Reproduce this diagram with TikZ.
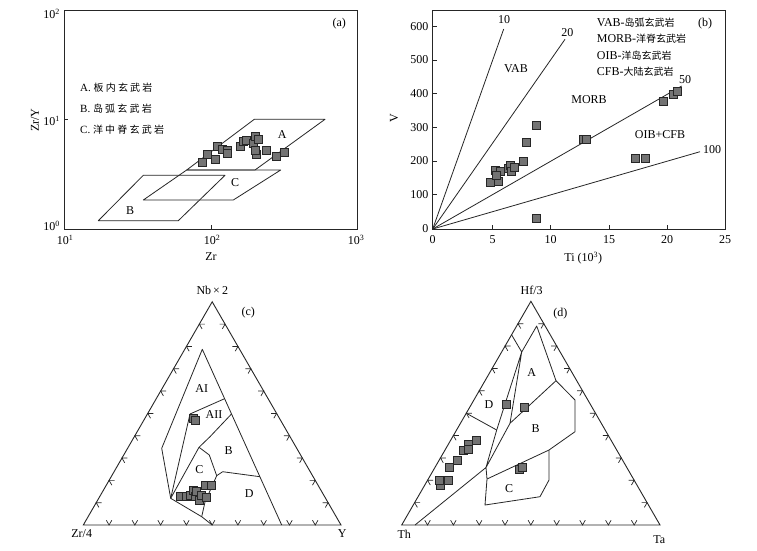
\documentclass[tikz,border=0pt]{standalone}
\usepackage{fontspec}
\setmainfont{Liberation Serif}
\newfontfamily\cjk{Noto Sans CJK SC}
\usetikzlibrary{calc}
\newcommand\ck{\kern2.2pt}
\newcommand\terntk[3]{%
 \foreach \i in {1,...,9}{%
  \draw[tk] ($(#1)!{\i/10}!(#2)$) ++(5.5,0) -- ++(-5.5,0) -- ++(2.75,4.76);
  \draw[tk] ($(#1)!{\i/10}!(#3)$) ++(-2.75,-4.76) -- ++(2.75,4.76) -- ++(2.75,-4.76);
  \draw[tk] ($(#3)!{\i/10}!(#2)$) ++(-5.5,0) -- ++(5.5,0) -- ++(-2.75,4.76);
 }}
\tikzset{
 lbl/.style={font=\fontsize{12}{14}\selectfont, inner sep=0pt},
 leg/.style={font=\fontsize{11}{13}\selectfont, inner sep=0pt, anchor=west},
 frm/.style={draw=black!85, line width=0.9pt},
 fld/.style={draw=black!85, line width=0.8pt, line join=round},
 sq/.style={draw=black!85, fill=black!55, line width=0.7pt, minimum size=8pt, inner sep=0pt},
 tk/.style={draw=black!85, line width=0.7pt},
}
\begin{document}
\begin{tikzpicture}[x=1pt,y=-1pt]
\useasboundingbox (0,0) rectangle (757,550);
\fill[white] (0,0) rectangle (757,550);

% ================= panel (a)
\coordinate (aTL) at (64.3,10); \coordinate (aBR) at (357.3,229);
\draw[frm] (aTL) rectangle (aBR);
\draw[tk] (211,229) -- (211,225);
\draw[tk] (64.3,119.7) -- (68.3,119.7);
\node[lbl,anchor=east] (ay2) at (60,14) {10\textsuperscript{2}};
\node[lbl,anchor=east] (ay1) at (60,121) {10\textsuperscript{1}};
\node[lbl,anchor=east] (ay0) at (60,226) {10\textsuperscript{0}};
\node[lbl] (ax1) at (65,240) {10\textsuperscript{1}};
\node[lbl] (ax2) at (212,240) {10\textsuperscript{2}};
\node[lbl] (ax3) at (356,240) {10\textsuperscript{3}};
\node[lbl] (axl) at (211,257) {Zr};
\node[lbl,rotate=90] (ayl) at (35,120) {Zr/Y};
\node[lbl] (alab) at (339.3,24) {(a)};
\node[leg] (lgA) at (80,87.3) {A.\ {\cjk\fontsize{10}{12}\selectfont 板\ck 内\ck 玄\ck 武\ck 岩}};
\node[leg] (lgB) at (80,108.7) {B.\ {\cjk\fontsize{10}{12}\selectfont 岛\ck 弧\ck 玄\ck 武\ck 岩}};
\node[leg] (lgC) at (80,129.3) {C.\ {\cjk\fontsize{10}{12}\selectfont 洋\ck 中\ck 脊\ck 玄\ck 武\ck 岩}};
\coordinate (pA1) at (186.7,170); \coordinate (pA2) at (255,170);
\coordinate (pA3) at (325,119.3); \coordinate (pA4) at (254.3,119.3);
\coordinate (pC1) at (143.3,200); \coordinate (pC2) at (233.3,200);
\coordinate (pC3) at (280.7,170);
\coordinate (pB1) at (98.3,220.7); \coordinate (pB2) at (178.3,220.7);
\coordinate (pB3) at (225,175.3); \coordinate (pB4) at (143.3,175.3);
\draw[fld] (pA1) -- (pA2) -- (pA3) -- (pA4) -- cycle;
\draw[fld] (pC1) -- (pC2) -- (pC3) -- (pA1) -- cycle;
\draw[fld] (pB1) -- (pB2) -- (pB3) -- (pB4) -- cycle;
\node[lbl] (fa) at (282.3,134.7) {A};
\node[lbl] (fc) at (235,183) {C};
\node[lbl] (fb) at (130,210.7) {B};
\foreach \x/\y [count=\k] in {202.3/162,207.3/154,215/159.3,217.3/146.7,222.3/149,227.7/150.7,227.7/153.3,240/146.7,243.3/141.7,246.7/140.7,253.3/143.3,255.5/136,258.3/139,256.7/154.5,255.7/150,266.7/150,276/156.7,284.3/152.3}
  {\node[sq] (da\k) at (\x,\y) {};}

% ================= panel (b)
\coordinate (bTL) at (432.7,10); \coordinate (bBR) at (725,229);
\coordinate (bO) at (432.7,229);
\draw[frm] (bTL) rectangle (bBR);
\foreach \v/\t in {492.7/5,550.7/10,609/15,667/20}{\draw[tk] (\v,229) -- (\v,225);}
\foreach \v in {194.7,161,127.3,93.7,60,26.7}{\draw[tk] (432.7,\v) -- (436.7,\v);}
\foreach \v/\t [count=\k] in {229/0,194.7/100,161/200,127.3/300,93.7/400,60/500,26.7/600}
  {\node[lbl,anchor=east] (by\k) at (428.5,\v) {\t};}
\foreach \v/\t [count=\k] in {432.7/0,492.7/5,550.7/10,609/15,667/20,725/25}
  {\node[lbl] (bx\k) at (\v,239.5) {\t};}
\node[lbl,rotate=90] (byl) at (394,118.3) {V};
\node[lbl] (bxl) at (583.3,258.3) {Ti (10\textsuperscript{3})};
\node[lbl] (blab) at (705,24) {(b)};
\coordinate (b10) at (503.7,29); \coordinate (b20) at (565,39.3);
\coordinate (b50) at (681.7,86); \coordinate (b100) at (700,151.7);
\draw[fld] (bO) -- (b10); \draw[fld] (bO) -- (b20);
\draw[fld] (bO) -- (b50); \draw[fld] (bO) -- (b100);
\node[lbl] (t10) at (504,20) {10};
\node[lbl] (t20) at (567.3,32.3) {20};
\node[lbl] (t50) at (685,79.3) {50};
\node[lbl] (t100) at (712,150) {100};
\node[lbl] (rVAB) at (516,68.7) {VAB};
\node[lbl] (rMORB) at (589,99.3) {MORB};
\node[lbl] (rOIB) at (660,134.3) {OIB+CFB};
\node[lbl,anchor=west] (lg1) at (596.7,22.3) {VAB-{\cjk\fontsize{10}{12}\selectfont 岛弧玄武岩}};
\node[lbl,anchor=west] (lg2) at (596.7,39) {MORB-{\cjk\fontsize{10}{12}\selectfont 洋脊玄武岩}};
\node[lbl,anchor=west] (lg3) at (596.7,55.3) {OIB-{\cjk\fontsize{10}{12}\selectfont 洋岛玄武岩}};
\node[lbl,anchor=west] (lg4) at (596.7,71.7) {CFB-{\cjk\fontsize{10}{12}\selectfont 大陆玄武岩}};
\foreach \x/\y [count=\k] in {490/182.7,495.7/170.5,498.3/181,500/171,496/175.5,508.3/168.3,510.7/165.5,511.7/171,514/167.7,523.3/161.7,526.3/142,536.3/125,583/139.3,586.7/139.3,635/158.3,645/158.3,536.3/218,663/101,673/94.3,677.7/91}
  {\node[sq] (db\k) at (\x,\y) {};}

% ================= panel (c)
\coordinate (cL) at (83.3,525); \coordinate (cA) at (212.2,301.8); \coordinate (cR) at (341,525);
\draw[frm,line join=miter] (cL) -- (cA) -- (cR) -- cycle;
\terntk{cL}{cA}{cR}
\node[lbl] (cTop) at (212.3,290.7) {Nb\,×\,2};
\node[lbl] (cLL) at (81.7,534) {Zr/4};
\node[lbl] (cRL) at (342.3,534) {Y};
\node[lbl] (clab) at (248.3,312.3) {(c)};
\coordinate (c1) at (202.3,349.3); \coordinate (c2) at (281.7,525);
\coordinate (c3) at (161.7,448.3); \coordinate (c4) at (170.7,498.3);
\coordinate (c5) at (190,414); \coordinate (c6) at ($(c1)!0.281!(c2)$);
\coordinate (c7) at ($(c1)!0.368!(c2)$); \coordinate (c8) at (210,436.7);
\coordinate (c9) at (199,447.3); \coordinate (c10) at (209.3,455);
\coordinate (c11) at (216.7,475.7); \coordinate (c12) at (222.7,471.7);
\coordinate (c13) at ($(c1)!0.725!(c2)$); \coordinate (c14) at (205,502);
\coordinate (c15) at (201.7,516.7); \coordinate (c16) at (212.2,525);
\draw[fld] (c2) -- (c1) -- (c3) -- (c4);
\draw[fld] (c4) -- (c5) -- (c6);
\draw[fld] (c7) -- (c8) -- (c9) -- (c4);
\draw[fld] (c9) -- (c10) -- (c11) -- (c12) -- (c13);
\draw[fld] (c11) -- (c14) -- (c15);
\draw[fld] (c4) -- (c15) -- (c16);
\node[lbl] (fAI) at (201.7,388.3) {AI};
\node[lbl] (fAII) at (214,415) {AII};
\node[lbl] (fBc) at (228.7,450.7) {B};
\node[lbl] (fCc) at (199.3,470) {C};
\node[lbl] (fDc) at (249.3,494) {D};
\foreach \x/\y [count=\k] in {193.5/418.5,195/420.5,180.7/496.7,186/496,190/495,193.3/490,195/496.7,196.7/491.7,199.3/500,201.7/495,205/485.7,206.7/497.7,211.7/485.7}
  {\node[sq] (dc\k) at (\x,\y) {};}

% ================= panel (d)
\coordinate (dL) at (401.7,525); \coordinate (dA) at (530.9,301.3); \coordinate (dR) at (660,525);
\draw[frm,line join=miter] (dL) -- (dA) -- (dR) -- cycle;
\terntk{dL}{dA}{dR}
\node[lbl] (dTop) at (531.7,290.7) {Hf/3};
\node[lbl] (dLL) at (404.3,534) {Th};
\node[lbl] (dRL) at (659.3,540) {Ta};
\node[lbl] (dlab) at (560.3,313.3) {(d)};
\coordinate (e1) at (511.7,335); \coordinate (j1) at (521.7,352);
\coordinate (ia) at (536.7,326); \coordinate (ab) at (556,380.7);
\coordinate (br1) at (575,400); \coordinate (br2) at (575,431.7);
\coordinate (bc1) at (549,450); \coordinate (bc2) at (487,479);
\coordinate (j2) at (510,423.3); \coordinate (j3) at (496.7,430);
\coordinate (e2) at (466.4,413.3); \coordinate (j4) at (486,467.5);
\coordinate (db0) at (415,525);
\coordinate (cc1) at (549,480); \coordinate (cc2) at (540,496.7); \coordinate (cc3) at (485,505);
\draw[fld] (e1) -- (j1) -- (ia) -- (ab) -- (br1) -- (br2) -- (bc1) -- (bc2);
\draw[fld] (ab) -- (j2) -- (j1) -- (j3) -- (j4) -- (j2);
\draw[fld] (e2) -- (j3);
\draw[fld] (db0) -- (j4) -- (bc2) -- (cc3) -- (cc2) -- (cc1) -- (bc1);
\node[lbl] (fAd) at (531.7,372.3) {A};
\node[lbl] (fBd) at (535.7,429) {B};
\node[lbl] (fCd) at (509,488.3) {C};
\node[lbl] (fDd) at (489,404.3) {D};
\foreach \x/\y [count=\k] in {440/485,439.3/480,448.3/480,449.3/467.7,457.3/460,463.3/450,468.3/444,468.3/449,476/440.7,506.7/404.3,524/407.7,519.3/469,522.3/467.7}
  {\node[sq] (dd\k) at (\x,\y) {};}
\end{tikzpicture}
\end{document}
